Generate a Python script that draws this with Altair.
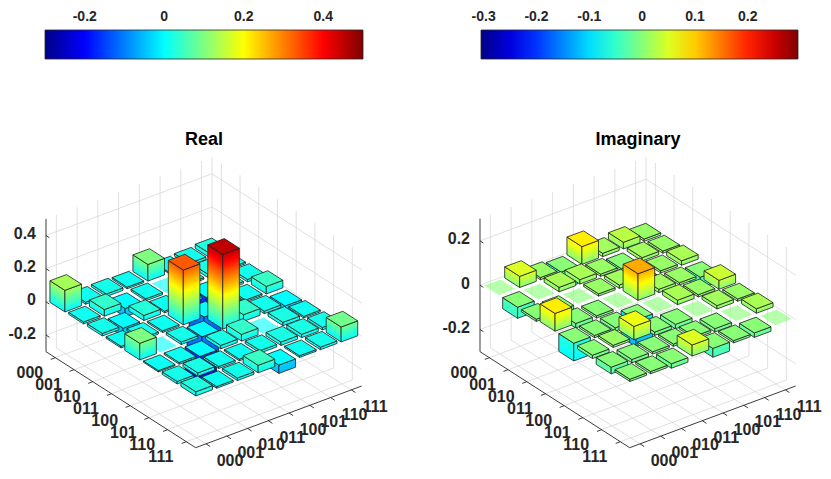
import altair as alt
import numpy as np
import pandas as pd

# ---------------- data ----------------
basis = ["000", "001", "010", "011", "100", "101", "110", "111"]

real_r1 = [0.13, 0.012, 0.015, 0.01, 0.10, 0.008, 0.015, 0.025]
real_r2 = [0.012, 0.04, -0.05, 0.012, 0.0, 0.01, 0.02, 0.01]
real_r3 = [0.015, -0.05, 0.03, 0.01, 0.015, -0.21, 0.012, 0.015]
real_r4 = [0.01, 0.012, 0.01, 0.33, -0.13, 0.02, 0.01, 0.045]
real_r5 = [0.10, 0.0, 0.015, -0.13, 0.45, 0.04, 0.015, -0.05]
real_r6 = [0.008, 0.01, -0.21, 0.02, 0.04, 0.0, 0.02, 0.01]
real_r7 = [0.015, 0.02, 0.012, 0.01, 0.015, 0.02, 0.02, 0.015]
real_r8 = [0.025, 0.01, 0.015, 0.045, -0.05, 0.01, 0.015, 0.09]

imag_r1 = [0.0, 0.05, 0.01, -0.08, 0.08, 0.015, 0.03, 0.01]
imag_r2 = [-0.05, 0.0, 0.02, 0.02, 0.01, -0.01, 0.015, 0.01]
imag_r3 = [-0.01, -0.02, 0.0, 0.01, 0.015, -0.06, 0.01, 0.02]
imag_r4 = [0.08, -0.02, -0.01, 0.0, 0.12, 0.015, 0.01, -0.05]
imag_r5 = [-0.08, -0.01, -0.015, -0.12, 0.0, 0.02, 0.01, 0.04]
imag_r6 = [-0.015, 0.01, 0.06, -0.015, -0.02, 0.0, 0.015, 0.01]
imag_r7 = [-0.03, -0.015, -0.01, -0.01, -0.01, -0.015, 0.0, 0.02]
imag_r8 = [-0.01, -0.01, -0.02, 0.05, -0.04, -0.01, -0.02, 0.0]

real_z_ticks = [-0.2, 0.0, 0.2, 0.4]
imag_z_ticks = [-0.2, 0.0, 0.2]
real_cbar_ticks = [-0.2, 0.0, 0.2, 0.4]
imag_cbar_ticks = [-0.3, -0.2, -0.1, 0.0, 0.1, 0.2]

REAL = [real_r1, real_r2, real_r3, real_r4, real_r5, real_r6, real_r7, real_r8]
IMAG = [imag_r1, imag_r2, imag_r3, imag_r4, imag_r5, imag_r6, imag_r7, imag_r8]

# ---------------- 3-D view (orthographic, MATLAB view(-37.5,30)) ----------------
PANEL = {
    "L": dict(ox=46.0, oy=351.7, zmin=-0.3, zmax=0.5, zs=166.0),
    "R": dict(ox=480.0, oy=351.7, zmin=-0.3, zmax=0.3, zs=221.7),
}
CX, CY = 20.75, -7.71   # screen step per column
RX, RY = 18.71, 12.0    # screen step per row

CBAR = {  # colour-bar placement and colour limits
    "L": dict(x0=45.0, length=318.0, lo=-0.3, hi=0.5),
    "R": dict(x0=481.0, length=317.0, lo=-0.305, hi=0.295),
}
CBAR_TOP = 30.0


def proj(g, c, r, z):
    x = g["ox"] + (c - 0.5) * CX + (r - 0.5) * RX
    y = g["oy"] + (c - 0.5) * CY + (r - 0.5) * RY - (z - g["zmin"]) * g["zs"]
    return [round(x, 2), round(y, 2)]


def poly(pts):
    return {"type": "Polygon", "coordinates": [pts + [pts[0]]]}


def feat(geom, v, fo, so, sw):
    return {"type": "Feature", "geometry": geom,
            "properties": {"v": float(v), "fo": fo, "so": so, "sw": sw}}


def seg(a, b):
    return {"type": "Feature", "geometry": {"type": "LineString", "coordinates": [a, b]},
            "properties": {}}


def bar_features(g, M):
    feats = []
    cells = [(r, c) for r in range(1, 9) for c in range(1, 9)]
    cells.sort(key=lambda rc: (rc[0] - rc[1], rc[0]))
    w = 0.4
    for r, c in cells:
        v = M[r - 1][c - 1]
        if v == 0:
            pts = [proj(g, c - w, r - w, 0), proj(g, c + w, r - w, 0),
                   proj(g, c + w, r + w, 0), proj(g, c - w, r + w, 0)]
            feats.append(feat(poly(pts), 0.0, 0.6, 0, 0))
            continue
        lo, hi = min(0.0, v), max(0.0, v)
        n = max(1, int(np.ceil((hi - lo) / 0.012)))
        edges = [lo + (hi - lo) * k / n for k in range(n + 1)]
        for face in ("left", "front"):
            if face == "left":
                A, B = (c - w, r - w), (c - w, r + w)
            else:
                A, B = (c - w, r + w), (c + w, r + w)
            for k in range(n):
                z0 = edges[k]
                z1 = min(hi, edges[k + 1] + (0.004 if k < n - 1 else 0.0))
                zm = 0.5 * (edges[k] + edges[k + 1])
                cv = zm if v > 0 else 0.75 * v + 0.25 * zm
                pts = [proj(g, A[0], A[1], z0), proj(g, B[0], B[1], z0),
                       proj(g, B[0], B[1], z1), proj(g, A[0], A[1], z1)]
                feats.append(feat(poly(pts), cv, 1, 0, 0))
            pts = [proj(g, A[0], A[1], lo), proj(g, B[0], B[1], lo),
                   proj(g, B[0], B[1], hi), proj(g, A[0], A[1], hi)]
            feats.append(feat(poly(pts), 0.0, 0, 1, 0.8))
        pts = [proj(g, c - w, r - w, hi), proj(g, c + w, r - w, hi),
               proj(g, c + w, r + w, hi), proj(g, c - w, r + w, hi)]
        feats.append(feat(poly(pts), hi if v > 0 else 0.0, 1, 1, 0.8))
    return feats


def grid_features(g, zt):
    zmin, zmax = g["zmin"], g["zmax"]
    f = []
    for k in range(1, 9):
        f.append(seg(proj(g, k, 0.5, zmin), proj(g, k, 8.5, zmin)))
        f.append(seg(proj(g, 0.5, k, zmin), proj(g, 8.5, k, zmin)))
        f.append(seg(proj(g, k, 0.5, zmin), proj(g, k, 0.5, zmax)))
        f.append(seg(proj(g, 8.5, k, zmin), proj(g, 8.5, k, zmax)))
    for z in zt:
        f.append(seg(proj(g, 0.5, 0.5, z), proj(g, 8.5, 0.5, z)))
        f.append(seg(proj(g, 8.5, 0.5, z), proj(g, 8.5, 8.5, z)))
    f.append(seg(proj(g, 8.5, 0.5, zmin), proj(g, 8.5, 0.5, zmax)))
    return f


def axis_features(g, zt):
    zmin, zmax = g["zmin"], g["zmax"]
    f = [seg(proj(g, 0.5, 0.5, zmin), proj(g, 0.5, 0.5, zmax)),
         seg(proj(g, 0.5, 0.5, zmin), proj(g, 0.5, 8.5, zmin)),
         seg(proj(g, 0.5, 8.5, zmin), proj(g, 8.5, 8.5, zmin))]
    for k in range(1, 9):
        f.append(seg(proj(g, 0.5, k, zmin), proj(g, 0.28, k, zmin)))
        f.append(seg(proj(g, k, 8.5, zmin), proj(g, k, 8.72, zmin)))
    for z in zt:
        f.append(seg(proj(g, 0.5, 0.5, z), proj(g, 0.5, 0.68, z)))
    return f


def cbar_ticks(cb, values):
    f = []
    for v in values:
        x = round(cb["x0"] + (v - cb["lo"]) / (cb["hi"] - cb["lo"]) * cb["length"], 2)
        f.append(seg([x, CBAR_TOP], [x, CBAR_TOP + 3.5]))
    return f


def label_rows(g, zt, key):
    rows, cols, zs = [], [], []
    for k, lab in enumerate(basis, start=1):
        x, y = proj(g, 0.5, k, g["zmin"])
        rows.append({"lon": x - 25.5, "lat": y + 15, "t": lab, "p": key})
        x, y = proj(g, k, 8.5, g["zmin"])
        cols.append({"lon": x + 24, "lat": y + 17, "t": lab, "p": key})
    for z in zt:
        x, y = proj(g, 0.5, 0.5, z)
        t = "0" if z == 0 else ("%g" % z)
        zs.append({"lon": x - 10, "lat": y - 1.5, "t": t, "p": key})
    return rows, cols, zs


gL, gR = PANEL["L"], PANEL["R"]
bars_L = bar_features(gL, REAL)
bars_R = bar_features(gR, IMAG)
grid_all = grid_features(gL, real_z_ticks) + grid_features(gR, imag_z_ticks)
axes_all = (axis_features(gL, real_z_ticks) + axis_features(gR, imag_z_ticks)
            + cbar_ticks(CBAR["L"], real_cbar_ticks) + cbar_ticks(CBAR["R"], imag_cbar_ticks))

rL, cL, zL = label_rows(gL, real_z_ticks, "L")
rR, cR, zR = label_rows(gR, imag_z_ticks, "R")
tick_df = pd.DataFrame(rL + cL + rR + cR)
z_df = pd.DataFrame(zL + zR)
title_df = pd.DataFrame([
    {"lon": gL["ox"] + 158, "lat": 140, "t": "Real"},
    {"lon": gR["ox"] + 158, "lat": 140, "t": "Imaginary"},
])

JET = ["#000088", "#0000ff", "#00ffff", "#ffff00", "#ff0000", "#800000"]
FRACS = [0.0, 0.125, 0.375, 0.625, 0.875, 1.0]


def jet_scale(cb):
    lo, hi = cb["lo"], cb["hi"]
    return alt.Scale(domain=[lo + (hi - lo) * f for f in FRACS], range=JET,
                     zero=False, interpolate="rgb")


LABEL_EXPR = ("datum.value == 0 ? '0' : (datum.value < 0 ? '-' + format(-datum.value, '.1f')"
              " : format(datum.value, '.1f'))")
FONT = "Liberation Sans"


def cbar_legend(cb, values):
    return alt.Legend(orient="none", legendX=cb["x0"] - 8, legendY=CBAR_TOP - 8,
                      direction="horizontal",
                      gradientLength=cb["length"], gradientThickness=29, title=None,
                      values=values, labelExpr=LABEL_EXPR, labelOffset={"expr": "-49"},
                      labelBaseline="middle", labelAlign="center", labelFontSize=14,
                      labelFont=FONT, labelColor="#262626", labelFontWeight="bold",
                      labelOverlap=False, gradientStrokeColor="#262626",
                      gradientStrokeWidth=0.8, padding=0)


PROJ = dict(type="identity", scale=1, translate=[-8, -8])

grid_layer = alt.Chart(alt.Data(values=grid_all)).mark_geoshape(
    filled=False, stroke="#d8d8d8", strokeWidth=0.8).project(**PROJ)


def bar_layer(feats, scale, legend):
    return alt.Chart(alt.Data(values=feats)).mark_geoshape(stroke="#1e1e1e").encode(
        fill=alt.Fill("properties.v:Q", scale=scale, legend=legend),
        fillOpacity=alt.FillOpacity("properties.fo:Q", scale=None),
        strokeOpacity=alt.StrokeOpacity("properties.so:Q", scale=None),
        strokeWidth=alt.StrokeWidth("properties.sw:Q", scale=None),
    ).project(**PROJ)


left_bars = bar_layer(bars_L, jet_scale(CBAR["L"]), cbar_legend(CBAR["L"], real_cbar_ticks))
right_bars = bar_layer(bars_R, jet_scale(CBAR["R"]), cbar_legend(CBAR["R"], imag_cbar_ticks))

axes_layer = alt.Chart(alt.Data(values=axes_all)).mark_geoshape(
    filled=False, stroke="#262626", strokeWidth=0.9).project(**PROJ)

tick_text = alt.Chart(tick_df).mark_text(
    align="center", baseline="middle", fontSize=16, font=FONT, fontWeight="bold",
    color="#262626").encode(longitude="lon:Q", latitude="lat:Q", text="t:N").project(**PROJ)

z_text = alt.Chart(z_df).mark_text(
    align="right", baseline="middle", fontSize=16, font=FONT, fontWeight="bold",
    color="#262626").encode(longitude="lon:Q", latitude="lat:Q", text="t:N").project(**PROJ)

title_text = alt.Chart(title_df).mark_text(
    align="center", baseline="middle", fontSize=18, font=FONT, fontWeight="bold",
    color="#000000").encode(longitude="lon:Q", latitude="lat:Q", text="t:N").project(**PROJ)

chart = alt.layer(
    grid_layer, left_bars, right_bars, axes_layer, tick_text, z_text, title_text
).resolve_scale(fill="independent").properties(
    width=815, height=463, padding=0, autosize=alt.AutoSizeParams(type="none"),
    background="white"
).configure_view(strokeWidth=0)

chart.save("out.html", embed_options={"renderer": "svg", "actions": False})
